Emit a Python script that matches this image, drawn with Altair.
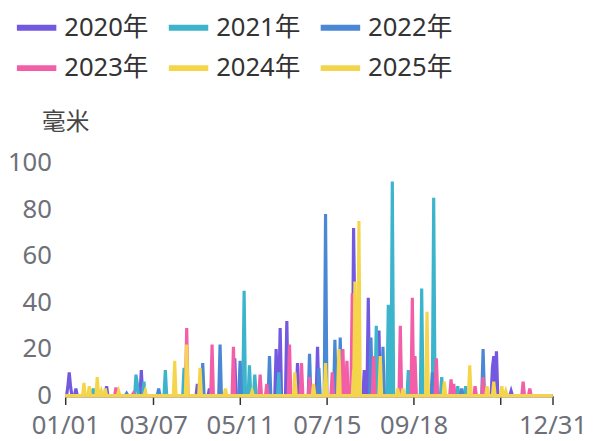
import altair as alt
import pandas as pd

# ---- data (day index 0 = 01/01, leap-year calendar) ----
years = ["2020年", "2021年", "2022年", "2023年", "2024年", "2025年"]
colors = ["#7359e0", "#3cb4cc", "#4a88d6", "#f25ea8", "#f5d64a", "#f2d54c"]

days_2020 = [2, 3, 4, 8, 31, 57, 99, 108, 127, 158, 161, 166, 174, 189, 216, 217, 224, 227, 235, 320, 321, 323, 334]
mm_2020 = [4, 10, 4, 3, 4, 11, 5, 3, 16, 20, 29, 32, 14, 21, 72, 30, 11, 42, 28, 12, 17, 19, 2]

days_2021 = [21, 53, 54, 59, 75, 89, 134, 138, 142, 160, 233, 242, 245, 257, 267, 276, 282, 294, 300]
mm_2021 = [3, 9, 5, 6, 11, 12, 45, 13, 9, 10, 30, 39, 92, 11, 46, 85, 8, 4, 4]

days_2022 = [46, 70, 103, 116, 131, 153, 183, 190, 195, 202, 206, 229, 238, 275, 297, 313]
mm_2022 = [1, 3, 14, 22, 15, 17, 18, 12, 78, 24, 25, 25, 21, 10, 3, 20]

days_2023 = [38, 51, 91, 110, 126, 146, 151, 168, 177, 183, 200, 208, 211, 215, 231, 251, 260, 262, 278, 289, 291, 307, 313, 343, 348]
mm_2023 = [3.5, 1, 29, 22, 21, 9, 5, 22, 14, 8, 10, 20, 15, 44, 17, 30, 42, 17, 16, 7, 5, 4, 8, 6, 3]

days_2024 = [14, 18, 24, 27, 40, 82, 91, 101, 172, 186, 205, 217, 220, 236, 271, 284, 303, 316, 321, 327]
mm_2024 = [5.5, 4, 8, 2, 2, 15, 22, 12, 10, 5, 20, 49, 75, 17, 36, 6, 13, 4, 6, 4]

days_2025 = [30, 60, 120, 140, 195, 216, 249, 253, 330]
mm_2025 = [3, 2, 3, 2, 14, 11, 3, 3, 2]

tick_days = [0, 66, 131, 196, 261, 326, 365]
tick_labels = ["01/01", "03/07", "05/11", "07/15", "09/18", "", "12/31"]
y_ticks = [0, 20, 40, 60, 80, 100]

N_DAYS = 366
series = [
    (days_2020, mm_2020), (days_2021, mm_2021), (days_2022, mm_2022),
    (days_2023, mm_2023), (days_2024, mm_2024), (days_2025, mm_2025),
]
rows = []
for order, (yr, (ds, vs)) in enumerate(zip(years, series)):
    lookup = dict(zip(ds, vs))
    for d in range(N_DAYS):
        rows.append({"year": yr, "order": order, "day": d, "mm": lookup.get(d, 0)})
df = pd.DataFrame(rows)

label_expr = " : ".join(
    f"datum.value == {d} ? '{l}'" for d, l in zip(tick_days, tick_labels)
) + " : ''"

FONT = "Noto Sans, Noto Sans CJK SC, sans-serif"
FS = 26

chart = alt.Chart(df).mark_line(strokeWidth=3.2, strokeJoin="miter", clip=False).encode(
    x=alt.X("day:Q",
            scale=alt.Scale(domain=[0, 365], nice=False, zero=False),
            axis=alt.Axis(values=tick_days, labelExpr=label_expr, title=None, grid=False,
                          domain=True, domainColor="#6E7079", tickColor="#333333",
                          tickSize=9, tickWidth=1.5, labelPadding=8, labelFontSize=FS,
                          labelColor="#6E7079", labelFont=FONT, labelOverlap=False,
                          labelFlush=False)),
    y=alt.Y("mm:Q",
            scale=alt.Scale(domain=[0, 100], nice=False),
            axis=alt.Axis(values=y_ticks, grid=False, domain=False, ticks=False,
                          labelPadding=14, labelFontSize=FS, labelColor="#6E7079",
                          labelFont=FONT, title="毫米", titleAngle=0, titleX=0, titleY=-41,
                          titleAlign="center", titleBaseline="middle", titleFontSize=24,
                          titleFontWeight="normal", titleColor="#464646", titleFont=FONT)),
    color=alt.Color("year:N",
                    scale=alt.Scale(domain=years, range=colors),
                    legend=alt.Legend(orient="none", legendX=-52, legendY=-160,
                                      direction="horizontal", columns=3, title=None,
                                      symbolType="stroke", symbolSize=1600,
                                      symbolStrokeWidth=6, labelFontSize=FS,
                                      labelColor="#333333", labelFont=FONT,
                                      columnPadding=8, rowPadding=5, labelOffset=5)),
    order=alt.Order("order:Q"),
).properties(
    width=494, height=236,
    autosize=alt.AutoSizeParams(type="none"),
    padding={"left": 58, "top": 154, "right": 38, "bottom": 43},
).configure_view(stroke=None)

chart.save("out.html", embed_options={"renderer": "svg", "actions": False})
